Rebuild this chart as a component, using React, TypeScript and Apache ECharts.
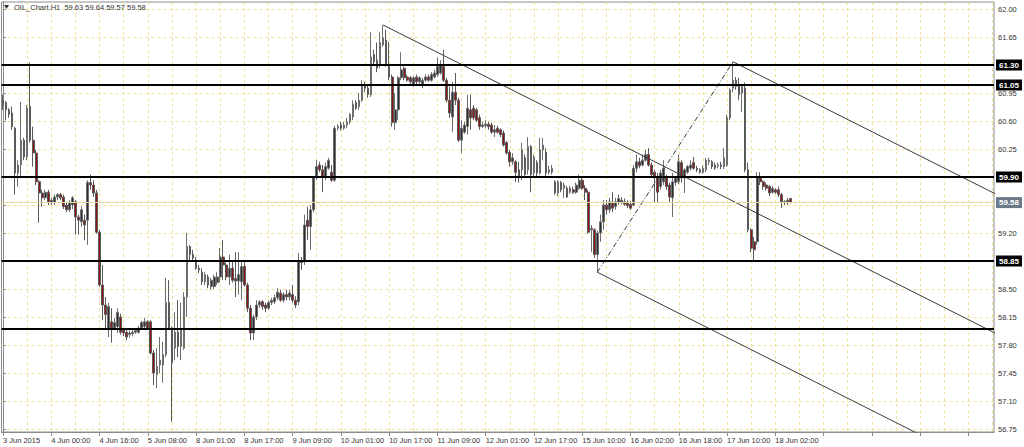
import React, { useEffect, useRef } from "react";
import * as echarts from "echarts";

// Each bar: [open, close, low, high]  (H1 bars, OIL)
const jun03 = [
  [60.86, 60.80, 60.74, 60.93], [60.83, 60.74, 60.61, 60.85], [60.74, 60.68, 60.64, 60.76], [60.70, 60.53, 60.49, 60.78],
  [60.51, 59.95, 59.68, 60.53], [59.95, 60.05, 59.78, 60.11], [60.05, 60.36, 59.89, 60.84], [60.36, 60.15, 60.11, 60.39],
  [60.15, 60.76, 60.11, 60.80], [60.78, 60.36, 60.33, 61.33], [60.36, 60.20, 60.03, 60.53], [60.20, 59.84, 59.80, 60.24],
  [59.84, 59.70, 59.33, 59.86], [59.70, 59.64, 59.53, 59.74], [59.64, 59.71, 59.61, 59.74], [59.71, 59.58, 59.55, 59.74],
];
const jun04 = [
  [59.58, 59.61, 59.55, 59.64], [59.58, 59.65, 59.55, 59.68], [59.65, 59.68, 59.61, 59.70], [59.68, 59.64, 59.61, 59.70],
  [59.65, 59.53, 59.50, 59.68], [59.55, 59.49, 59.46, 59.59], [59.49, 59.58, 59.46, 59.61], [59.55, 59.64, 59.50, 59.66],
  [59.59, 59.40, 59.18, 59.61], [59.40, 59.36, 59.18, 59.43], [59.34, 59.49, 59.28, 59.53], [59.36, 59.30, 59.11, 59.43],
  [59.36, 59.83, 59.05, 59.86], [59.83, 59.80, 59.74, 59.93], [59.80, 59.70, 59.65, 59.86], [59.70, 59.21, 59.19, 59.74],
  [59.21, 58.55, 58.53, 59.24], [58.55, 58.30, 58.11, 58.80], [58.30, 58.18, 57.99, 58.40], [57.99, 58.28, 57.90, 58.33],
  [58.09, 58.01, 57.83, 58.26], [58.01, 58.08, 57.99, 58.14], [58.03, 58.21, 57.95, 58.26], [58.15, 57.96, 57.93, 58.19],
];
const jun05 = [
  [57.99, 57.95, 57.91, 58.01], [57.96, 57.90, 57.86, 58.00], [57.93, 57.95, 57.89, 57.98], [57.94, 57.96, 57.91, 57.99],
  [57.96, 57.98, 57.94, 58.01], [57.96, 58.01, 57.94, 58.04], [58.01, 58.08, 57.99, 58.10], [58.03, 58.09, 58.00, 58.14],
  [58.09, 58.01, 57.99, 58.11], [58.09, 57.70, 57.68, 58.11], [57.70, 57.45, 57.30, 57.74], [57.43, 57.53, 57.26, 57.76],
  [57.55, 57.61, 57.45, 57.90], [57.55, 57.68, 57.33, 57.84], [57.68, 58.33, 57.65, 58.64], [58.33, 58.01, 57.99, 58.61],
  [58.01, 57.58, 56.84, 58.03], [57.76, 57.96, 57.61, 58.21], [57.96, 57.78, 57.65, 58.36], [57.78, 57.99, 57.61, 58.33],
  [57.76, 58.40, 57.74, 58.46], [58.40, 59.03, 58.15, 59.20], [59.03, 58.93, 58.86, 59.05], [58.93, 58.89, 58.84, 58.99],
];
const jun08 = [
  [58.86, 58.76, 58.74, 58.90], [58.76, 58.74, 58.70, 58.80], [58.71, 58.59, 58.55, 58.76], [58.59, 58.68, 58.55, 58.71],
  [58.65, 58.55, 58.51, 58.68], [58.53, 58.61, 58.49, 58.64], [58.53, 58.65, 58.50, 58.68], [58.58, 58.65, 58.55, 58.71],
  [58.65, 58.90, 58.58, 59.01], [58.90, 58.80, 58.61, 59.11], [58.80, 58.65, 58.61, 58.83], [58.65, 58.76, 58.55, 58.93],
  [58.76, 58.61, 58.58, 58.86], [58.63, 58.60, 58.40, 58.96], [58.60, 58.68, 58.43, 58.96], [58.59, 58.78, 58.36, 58.86],
  [58.78, 58.55, 58.53, 58.86], [58.55, 58.26, 58.21, 58.58], [58.26, 57.95, 57.86, 58.30], [57.95, 58.15, 57.86, 58.18],
  [58.15, 58.30, 58.11, 58.36], [58.30, 58.34, 58.26, 58.36], [58.34, 58.28, 58.24, 58.36],
];
const jun09 = [
  [58.30, 58.26, 58.21, 58.33], [58.26, 58.33, 58.24, 58.36], [58.33, 58.36, 58.30, 58.39], [58.34, 58.39, 58.31, 58.43],
  [58.39, 58.46, 58.36, 58.51], [58.45, 58.36, 58.34, 58.49], [58.36, 58.43, 58.33, 58.46], [58.43, 58.40, 58.36, 58.49],
  [58.40, 58.45, 58.36, 58.49], [58.43, 58.36, 58.33, 58.55], [58.36, 58.30, 58.26, 58.41], [58.34, 58.84, 58.30, 58.95],
  [58.84, 58.83, 58.74, 58.90], [58.84, 59.30, 58.80, 59.43], [59.36, 59.28, 59.11, 59.53], [59.28, 59.49, 58.99, 59.55],
  [59.49, 59.89, 59.46, 59.90], [59.90, 60.03, 59.86, 60.11], [60.05, 59.99, 59.96, 60.09], [59.99, 59.90, 59.71, 60.05],
  [59.90, 60.03, 59.86, 60.08], [60.01, 60.11, 59.99, 60.14], [59.96, 59.86, 59.84, 60.05], [59.86, 60.51, 59.84, 60.54],
];
const jun10 = [
  [60.51, 60.53, 60.48, 60.56], [60.55, 60.51, 60.48, 60.59], [60.51, 60.55, 60.49, 60.59], [60.55, 60.59, 60.51, 60.64],
  [60.59, 60.68, 60.56, 60.70], [60.65, 60.81, 60.61, 60.86], [60.83, 60.76, 60.74, 60.86], [60.78, 60.86, 60.74, 60.95],
  [60.86, 61.05, 60.84, 61.11], [61.05, 61.01, 60.96, 61.09], [61.01, 60.93, 60.89, 61.05], [60.93, 61.40, 60.90, 61.71],
  [61.43, 61.34, 61.30, 61.49], [61.36, 61.26, 61.21, 61.58], [61.30, 61.58, 61.26, 61.71], [61.55, 61.64, 61.53, 61.80],
  [61.61, 61.30, 61.28, 61.74], [61.30, 61.15, 61.11, 61.59], [61.15, 60.58, 60.53, 61.18], [60.58, 60.74, 60.49, 60.95],
  [60.74, 61.14, 60.61, 61.16], [61.14, 61.24, 61.11, 61.46], [61.26, 61.14, 61.11, 61.28], [61.15, 61.11, 61.09, 61.18],
];
const jun11 = [
  [61.14, 61.09, 61.05, 61.16], [61.05, 61.14, 61.03, 61.16], [61.15, 61.09, 61.06, 61.18], [61.09, 61.14, 61.06, 61.16],
  [61.05, 61.11, 61.01, 61.14], [61.11, 61.15, 61.09, 61.18], [61.15, 61.11, 61.09, 61.18], [61.11, 61.18, 61.09, 61.21],
  [61.15, 61.20, 61.13, 61.24], [61.18, 61.28, 61.15, 61.39], [61.20, 61.30, 61.18, 61.36], [61.28, 61.11, 61.09, 61.49],
  [61.11, 60.86, 60.83, 61.14], [60.86, 60.70, 60.64, 61.03], [60.65, 60.96, 60.46, 61.09], [60.96, 60.86, 60.80, 61.20],
  [60.86, 60.36, 60.34, 60.89], [60.36, 60.51, 60.20, 60.61], [60.46, 60.55, 60.44, 60.59], [60.53, 60.76, 60.43, 60.93],
  [60.74, 60.64, 60.49, 60.93], [60.76, 60.64, 60.61, 60.80], [60.74, 60.61, 60.59, 60.76], [60.64, 60.53, 60.49, 60.68],
];
const jun12 = [
  [60.53, 60.55, 60.51, 60.59], [60.54, 60.56, 60.51, 60.61], [60.56, 60.53, 60.49, 60.59], [60.55, 60.46, 60.44, 60.58],
  [60.46, 60.49, 60.40, 60.55], [60.51, 60.46, 60.44, 60.54], [60.49, 60.43, 60.40, 60.51], [60.45, 60.30, 60.28, 60.48],
  [60.33, 60.20, 60.18, 60.35], [60.21, 60.09, 60.03, 60.24], [60.09, 60.14, 60.05, 60.20], [60.09, 59.96, 59.84, 60.11],
  [59.99, 59.89, 59.83, 60.09], [59.99, 60.24, 59.86, 60.33], [60.14, 59.93, 59.90, 60.18], [59.99, 60.28, 59.93, 60.40],
  [60.28, 59.93, 59.71, 60.30], [59.95, 60.15, 59.91, 60.18], [60.08, 59.95, 59.91, 60.11], [59.95, 60.24, 59.93, 60.39],
  [60.24, 60.30, 60.11, 60.39], [60.21, 59.95, 59.89, 60.26], [59.96, 59.99, 59.93, 60.04], [59.96, 60.01, 59.93, 60.05],
];
const jun15 = [
  [59.84, 59.70, 59.68, 59.86], [59.70, 59.84, 59.66, 59.86], [59.83, 59.74, 59.71, 59.85], [59.76, 59.80, 59.64, 59.83],
  [59.76, 59.65, 59.64, 59.79], [59.71, 59.76, 59.69, 59.79], [59.74, 59.71, 59.69, 59.78], [59.71, 59.80, 59.69, 59.83],
  [59.76, 59.86, 59.74, 59.93], [59.86, 59.76, 59.74, 59.90], [59.76, 59.71, 59.61, 59.80], [59.71, 59.21, 59.19, 59.74],
  [59.24, 59.26, 58.96, 59.30], [59.24, 58.93, 58.89, 59.26], [58.93, 59.20, 58.71, 59.23], [59.20, 59.34, 59.09, 59.43],
  [59.34, 59.55, 59.24, 59.61], [59.55, 59.49, 59.43, 59.61], [59.49, 59.59, 59.45, 59.64], [59.58, 59.51, 59.46, 59.71],
  [59.53, 59.59, 59.49, 59.64], [59.58, 59.63, 59.55, 59.68], [59.61, 59.59, 59.56, 59.65],
];
const jun16 = [
  [59.59, 59.56, 59.54, 59.63], [59.58, 59.54, 59.51, 59.61], [59.56, 59.51, 59.49, 59.60], [59.55, 60.01, 59.53, 60.05],
  [60.01, 60.09, 59.96, 60.18], [60.09, 60.04, 60.01, 60.14], [60.05, 60.11, 60.03, 60.18], [60.11, 60.18, 60.09, 60.24],
  [60.18, 60.05, 60.03, 60.26], [60.05, 59.93, 59.89, 60.08], [59.96, 59.89, 59.58, 59.99], [59.89, 59.71, 59.58, 59.95],
  [59.78, 59.95, 59.74, 59.99], [59.84, 60.01, 59.80, 60.11], [59.89, 59.78, 59.74, 59.93], [59.80, 59.65, 59.59, 59.83],
  [59.64, 59.84, 59.40, 59.95], [59.83, 59.89, 59.79, 59.91], [59.84, 60.09, 59.81, 60.18], [60.08, 59.89, 59.83, 60.11],
  [59.89, 59.99, 59.70, 60.01], [59.96, 60.03, 59.94, 60.05], [60.01, 60.05, 59.98, 60.11], [60.08, 60.01, 59.99, 60.15],
];
const jun17 = [
  [60.01, 59.99, 59.96, 60.04], [59.99, 59.96, 59.94, 60.01], [59.96, 60.01, 59.94, 60.04], [59.99, 60.11, 59.96, 60.14],
  [60.09, 60.11, 60.05, 60.14], [60.09, 60.03, 60.00, 60.11], [60.05, 60.01, 59.99, 60.08], [60.04, 60.05, 60.01, 60.08],
  [60.05, 60.03, 60.00, 60.09], [60.03, 60.14, 60.00, 60.26], [60.05, 60.64, 60.03, 60.68], [60.64, 60.99, 60.61, 61.01],
  [61.01, 61.11, 60.96, 61.34], [61.11, 61.03, 60.99, 61.15], [61.05, 60.93, 60.86, 61.14], [60.95, 61.03, 60.71, 61.05],
  [61.01, 59.99, 59.96, 61.08], [59.99, 59.24, 59.21, 60.08], [59.24, 59.01, 58.96, 59.26], [59.09, 58.99, 58.84, 59.15],
  [59.09, 59.90, 59.05, 59.96], [59.89, 59.84, 59.80, 59.96], [59.84, 59.78, 59.74, 59.86], [59.80, 59.76, 59.73, 59.83],
];
const jun18 = [
  [59.78, 59.70, 59.66, 59.80], [59.71, 59.76, 59.69, 59.79], [59.74, 59.71, 59.69, 59.76], [59.74, 59.68, 59.65, 59.78],
  [59.68, 59.59, 59.51, 59.70], [59.59, 59.58, 59.55, 59.61], [59.58, 59.61, 59.55, 59.64], [59.63, 59.58, 59.57, 59.64],
];

const days = [
  { day: "3 Jun", firstHour: 8, bars: jun03 },
  { day: "4 Jun", firstHour: 0, bars: jun04 },
  { day: "5 Jun", firstHour: 0, bars: jun05 },
  { day: "8 Jun", firstHour: 1, bars: jun08 },
  { day: "9 Jun", firstHour: 0, bars: jun09 },
  { day: "10 Jun", firstHour: 0, bars: jun10 },
  { day: "11 Jun", firstHour: 0, bars: jun11 },
  { day: "12 Jun", firstHour: 0, bars: jun12 },
  { day: "15 Jun", firstHour: 1, bars: jun15 },
  { day: "16 Jun", firstHour: 0, bars: jun16 },
  { day: "17 Jun", firstHour: 0, bars: jun17 },
  { day: "18 Jun", firstHour: 0, bars: jun18 },
];

const xTickLabels = [
  "3 Jun 2015", "4 Jun 00:00", "4 Jun 16:00", "5 Jun 08:00", "8 Jun 01:00", "8 Jun 17:00",
  "9 Jun 09:00", "10 Jun 01:00", "10 Jun 17:00", "11 Jun 09:00", "12 Jun 01:00", "12 Jun 17:00",
  "15 Jun 10:00", "16 Jun 02:00", "16 Jun 18:00", "17 Jun 10:00", "18 Jun 02:00",
];
const priceTicks = [
  56.75, 57.1, 57.45, 57.8, 58.15, 58.5, 58.85, 59.2, 59.55, 59.9, 60.25, 60.6, 60.95, 61.3, 61.65, 62.0,
];
const labeledLevels = [61.3, 61.05, 59.9, 58.85];
const plainLevels = [58.0];
const lastPrice = 59.58;
const symbolName = "OIL_Chart.H1";
const lastBarOHLC = [59.63, 59.64, 59.57, 59.58];
// Andrews' pitchfork pivots: [bar index, price]
const pivotA = [126, 61.8];
const pivotB = [197, 58.71];
const pivotC = [242, 61.34];

const TOTAL_SLOTS = 329; // visible bar slots incl. right-hand chart shift
const TICK_EVERY = 16;
const GRID_EVERY = 8;

const FONT = "'Liberation Sans', Arial, sans-serif";
const SMALL = 7.5;
const GRID_COLOR = "#f0e3a0";

function buildOption() {
  const candles: number[][] = [];
  const categories: string[] = [];
  days.forEach((d) => {
    d.bars.forEach((b, k) => {
      candles.push(b);
      const h = d.firstHour + k;
      categories.push(`${d.day} ${h < 10 ? "0" : ""}${h}:00`);
    });
  });
  while (categories.length < TOTAL_SLOTS) categories.push(`slot ${categories.length}`);

  // axis tick labels that sit under a level's own price box are hidden by it
  const visibleTickLabels = priceTicks.filter((v) => !labeledLevels.includes(v));

  const slope = ((pivotB[1] + pivotC[1]) / 2 - pivotA[1]) / ((pivotB[0] + pivotC[0]) / 2 - pivotA[0]);
  const endX = TOTAL_SLOTS + 2;
  const ray = (p: number[]) => [p, [endX, p[1] + slope * (endX - p[0])]];

  const lineSeries = (data: number[][], type: any) => ({
    type: "line",
    xAxisIndex: 1,
    yAxisIndex: 0,
    data,
    symbol: "none",
    silent: true,
    clip: true,
    z: 4,
    lineStyle: { color: "#3a3a3a", width: 1, type },
  });

  const levelLabel = (bg: string) => ({
    show: true,
    position: "end",
    distance: 2,
    formatter: (p: any) => Number(p.value).toFixed(2),
    color: "#fff",
    backgroundColor: bg,
    padding: [2, 3, 1, 3],
    fontSize: 8,
    fontFamily: FONT,
    fontWeight: "bold",
  });

  return {
    animation: false,
    backgroundColor: "#ffffff",
    textStyle: { fontFamily: FONT },
    grid: {
      left: 1,
      right: 30,
      top: 2,
      bottom: 15,
      show: true,
      borderColor: "#8c8c8c",
      borderWidth: 1,
      backgroundColor: "#ffffff",
    },
    graphic: [
      {
        type: "polygon",
        shape: { points: [[4, 5], [9, 5], [6.5, 9]] },
        style: { fill: "#333" },
        z: 100,
      },
      {
        type: "text",
        x: 14,
        y: 3,
        style: {
          text: `${symbolName}  ${lastBarOHLC.map((v) => v.toFixed(2)).join(" ")}`,
          fill: "#333",
          font: `${SMALL}px ${FONT}`,
        },
        z: 100,
      },
    ],
    xAxis: [
      {
        type: "category",
        data: categories,
        boundaryGap: true,
        axisLine: { show: true, lineStyle: { color: "#8c8c8c" } },
        axisTick: { show: true, interval: TICK_EVERY - 1, alignWithLabel: true, length: 4, lineStyle: { color: "#8c8c8c" } },
        axisLabel: {
          interval: TICK_EVERY - 1,
          align: "left",
          margin: 4,
          fontSize: SMALL,
          color: "#333",
          fontFamily: FONT,
          formatter: (_v: string, idx: number) =>
            idx % TICK_EVERY === 0 && xTickLabels[idx / TICK_EVERY] ? xTickLabels[idx / TICK_EVERY] : "",
        },
        splitLine: {
          show: true,
          interval: GRID_EVERY - 1,
          alignWithLabel: true,
          lineStyle: { color: GRID_COLOR, type: [3, 3], width: 1 },
        },
      },
      {
        type: "value",
        show: false,
        min: -0.5,
        max: TOTAL_SLOTS - 0.5,
        splitLine: { show: false },
      },
    ],
    yAxis: {
      type: "value",
      position: "right",
      min: 56.7125,
      max: 62.0875,
      axisLine: { show: true, lineStyle: { color: "#8c8c8c" } },
      axisTick: { show: true, length: 3, customValues: priceTicks, lineStyle: { color: "#8c8c8c" } },
      axisLabel: {
        customValues: visibleTickLabels,
        formatter: (v: number) => v.toFixed(2),
        fontSize: SMALL,
        color: "#333",
        margin: 4,
        fontFamily: FONT,
      },
      splitLine: {
        show: true,
        customValues: priceTicks,
        lineStyle: { color: GRID_COLOR, type: [3, 3], width: 1 },
      },
    },
    series: [
      {
        type: "candlestick",
        xAxisIndex: 0,
        yAxisIndex: 0,
        data: candles,
        barWidth: 2.2,
        z: 3,
        itemStyle: {
          color: "#2a2e32",
          color0: "#8e1414",
          borderColor: "#6e6e6e",
          borderColor0: "#5a5a5a",
          borderWidth: 1,
        },
        markLine: {
          silent: true,
          symbol: ["none", "none"],
          z: 6,
          data: [
            ...labeledLevels.map((v) => ({
              yAxis: v,
              lineStyle: { color: "#000", width: 2, type: "solid" },
              label: levelLabel("#000"),
            })),
            ...plainLevels.map((v) => ({
              yAxis: v,
              lineStyle: { color: "#000", width: 2, type: "solid" },
              label: { show: false },
            })),
            {
              yAxis: lastPrice,
              lineStyle: { color: "#e4d89a", width: 1, type: "solid" },
              label: levelLabel("#6b7a89"),
            },
          ],
        },
      },
      lineSeries(ray(pivotA), "solid"),
      lineSeries(ray(pivotB), "solid"),
      lineSeries(ray(pivotC), "solid"),
      lineSeries([pivotB, pivotC], [5, 2, 1, 2]),
    ],
  };
}

export default function App() {
  const ref = useRef<HTMLDivElement>(null);
  useEffect(() => {
    if (!ref.current) return;
    const chart = echarts.init(ref.current, undefined, { renderer: "svg" });
    chart.setOption(buildOption() as any);
    return () => chart.dispose();
  }, []);
  return (
    <div
      ref={ref}
      style={{ position: "fixed", left: 0, top: 0, width: 1024, height: 447, background: "#fff" }}
    />
  );
}
